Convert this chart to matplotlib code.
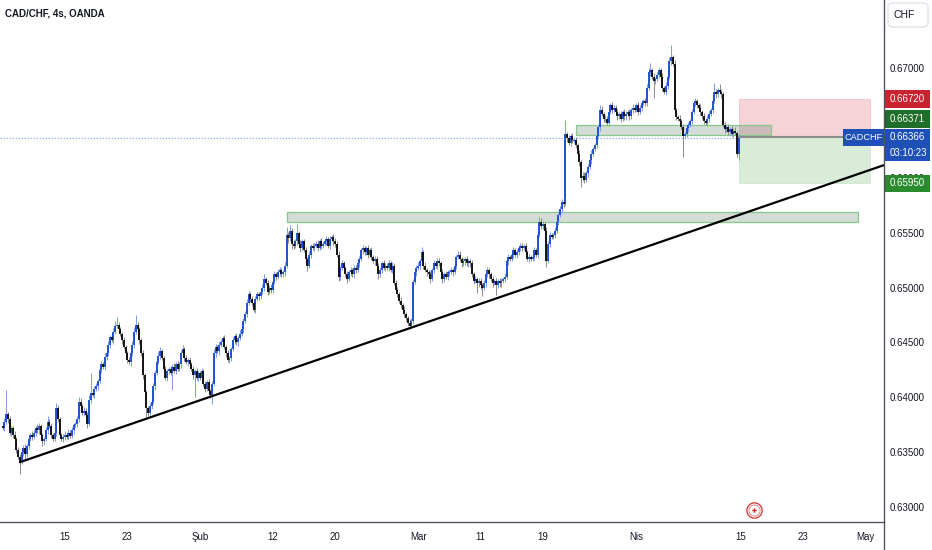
import datetime as dt
import numpy as np
import matplotlib
matplotlib.use("Agg")
import matplotlib.pyplot as plt
import matplotlib.transforms as mtransforms
from matplotlib.patches import Rectangle, FancyBboxPatch

FONT = ['Liberation Sans', 'DejaVu Sans']
plt.rcParams['font.family'] = FONT

# ---------------- data ----------------
title_text = "CAD/CHF, 4s, OANDA"
currency = "CHF"
symbol = "CADCHF"
first_day = "2024-01-05"
bars_per_day = 6
price_scale = 10000.0
first_open = 6374

# 4h closes (in 1/10000), one row per trading day, 6 bars per day
closes = [
    [6372, 6378, 6385, 6380, 6368, 6372],  # Jan 5
    [6366, 6362, 6352, 6346, 6342, 6350],  # Jan 8
    [6354, 6348, 6356, 6362, 6366, 6364],  # Jan 9
    [6368, 6372, 6370, 6374, 6366, 6360],  # Jan 10
    [6362, 6370, 6378, 6374, 6366, 6362],  # Jan 11
    [6368, 6390, 6380, 6366, 6362, 6364],  # Jan 12
    [6366, 6364, 6368, 6365, 6370, 6375],  # Jan 15
    [6376, 6380, 6396, 6392, 6386, 6388],  # Jan 16
    [6384, 6376, 6398, 6404, 6402, 6408],  # Jan 17
    [6410, 6415, 6425, 6430, 6428, 6437],  # Jan 18
    [6440, 6448, 6455, 6452, 6460, 6465],  # Jan 19
    [6466, 6462, 6458, 6452, 6446, 6440],  # Jan 22
    [6434, 6432, 6440, 6448, 6460, 6466],  # Jan 23
    [6462, 6452, 6440, 6420, 6405, 6390],  # Jan 24
    [6386, 6392, 6396, 6410, 6422, 6432],  # Jan 25
    [6438, 6442, 6436, 6426, 6418, 6424],  # Jan 26
    [6426, 6422, 6428, 6424, 6430, 6426],  # Jan 29
    [6430, 6440, 6444, 6436, 6432, 6434],  # Jan 30
    [6430, 6426, 6420, 6424, 6418, 6422],  # Jan 31
    [6418, 6424, 6412, 6408, 6414, 6406],  # Feb 1
    [6402, 6412, 6440, 6446, 6442, 6448],  # Feb 2
    [6450, 6454, 6446, 6440, 6434, 6436],  # Feb 5
    [6444, 6452, 6456, 6450, 6454, 6458],  # Feb 6
    [6462, 6470, 6476, 6486, 6494, 6490],  # Feb 7
    [6486, 6480, 6490, 6494, 6492, 6496],  # Feb 8
    [6500, 6508, 6504, 6496, 6500, 6498],  # Feb 9
    [6505, 6512, 6510, 6514, 6516, 6512],  # Feb 12
    [6514, 6520, 6548, 6545, 6552, 6540],  # Feb 13
    [6538, 6542, 6550, 6540, 6536, 6542],  # Feb 14
    [6534, 6526, 6520, 6530, 6538, 6536],  # Feb 15
    [6538, 6540, 6536, 6542, 6538, 6540],  # Feb 16
    [6542, 6544, 6538, 6544, 6546, 6542],  # Feb 19
    [6540, 6530, 6510, 6518, 6522, 6518],  # Feb 20
    [6512, 6508, 6514, 6516, 6512, 6518],  # Feb 21
    [6516, 6522, 6526, 6534, 6536, 6532],  # Feb 22
    [6536, 6530, 6534, 6528, 6524, 6526],  # Feb 23
    [6520, 6512, 6516, 6522, 6518, 6520],  # Feb 26
    [6518, 6522, 6516, 6520, 6504, 6498],  # Feb 27
    [6494, 6488, 6484, 6480, 6476, 6472],  # Feb 28
    [6468, 6465, 6470, 6505, 6514, 6518],  # Feb 29
    [6520, 6524, 6532, 6520, 6516, 6514],  # Mar 1
    [6512, 6508, 6516, 6522, 6520, 6524],  # Mar 4
    [6522, 6514, 6508, 6512, 6510, 6514],  # Mar 5
    [6514, 6516, 6514, 6520, 6528, 6530],  # Mar 6
    [6526, 6522, 6524, 6526, 6522, 6524],  # Mar 7
    [6522, 6512, 6506, 6508, 6504, 6506],  # Mar 8
    [6502, 6500, 6504, 6512, 6516, 6512],  # Mar 11
    [6508, 6504, 6506, 6502, 6506, 6504],  # Mar 12
    [6506, 6508, 6510, 6524, 6528, 6526],  # Mar 13
    [6530, 6534, 6530, 6532, 6536, 6538],  # Mar 14
    [6536, 6538, 6532, 6526, 6528, 6526],  # Mar 15
    [6528, 6534, 6530, 6548, 6560, 6556],  # Mar 18
    [6558, 6552, 6524, 6540, 6548, 6546],  # Mar 19
    [6548, 6552, 6560, 6566, 6572, 6578],  # Mar 20
    [6576, 6640, 6636, 6632, 6638, 6634],  # Mar 21
    [6634, 6630, 6622, 6614, 6600, 6602],  # Mar 22
    [6598, 6604, 6610, 6616, 6622, 6626],  # Mar 25
    [6630, 6638, 6646, 6662, 6658, 6654],  # Mar 26
    [6654, 6650, 6660, 6666, 6662, 6664],  # Mar 27
    [6660, 6656, 6658, 6654, 6660, 6656],  # Mar 28
    [6658, 6660, 6656, 6662, 6664, 6662],  # Mar 29
    [6666, 6660, 6664, 6668, 6670, 6668],  # Apr 1
    [6682, 6696, 6698, 6692, 6688, 6690],  # Apr 2
    [6694, 6698, 6692, 6682, 6678, 6684],  # Apr 3
    [6692, 6706, 6710, 6704, 6662, 6655],  # Apr 4
    [6654, 6652, 6646, 6638, 6640, 6645],  # Apr 5
    [6648, 6652, 6660, 6668, 6670, 6666],  # Apr 8
    [6664, 6660, 6656, 6652, 6650, 6654],  # Apr 9
    [6658, 6662, 6670, 6678, 6676, 6680],  # Apr 10
    [6678, 6676, 6648, 6644, 6646, 6642],  # Apr 11
    [6644, 6640, 6643, 6641, 6622, 6636.6],  # Apr 12
]

# wick length above the body (1/10000)
upper_wick = [
    [3, 3, 22, 2, 3, 2], [2, 3, 2, 3, 2, 3], [3, 4, 2, 3, 2, 3], [3, 2, 4, 3, 2, 2],
    [2, 3, 5, 2, 3, 2], [2, 5, 3, 2, 2, 3], [3, 2, 3, 2, 3, 2], [2, 3, 4, 3, 2, 3],
    [2, 3, 4, 18, 3, 2], [3, 2, 4, 3, 2, 3], [2, 3, 2, 4, 3, 5], [7, 3, 2, 2, 3, 2],
    [2, 3, 2, 3, 4, 9], [3, 2, 2, 3, 2, 2], [2, 3, 2, 3, 3, 4], [3, 4, 2, 2, 3, 2],
    [2, 3, 2, 3, 2, 3], [2, 3, 4, 2, 3, 2], [3, 2, 3, 2, 3, 2], [2, 3, 2, 3, 2, 3],
    [2, 3, 4, 3, 2, 3], [3, 2, 3, 2, 3, 2], [2, 3, 2, 3, 2, 3], [3, 2, 3, 4, 3, 2],
    [2, 3, 2, 3, 2, 4], [3, 4, 2, 3, 2, 3], [2, 3, 2, 3, 3, 2], [2, 3, 7, 3, 5, 2],
    [3, 2, 8, 2, 3, 2], [2, 3, 2, 3, 2, 3], [3, 2, 3, 2, 3, 2], [2, 3, 2, 3, 2, 3],
    [3, 2, 3, 2, 3, 2], [2, 3, 2, 3, 2, 3], [3, 2, 3, 2, 3, 2], [2, 3, 2, 3, 2, 3],
    [3, 2, 3, 2, 3, 2], [2, 3, 2, 3, 2, 3], [3, 2, 3, 2, 3, 2], [2, 3, 2, 3, 2, 3],
    [3, 2, 5, 2, 3, 2], [2, 3, 2, 3, 2, 3], [3, 2, 3, 2, 3, 2], [2, 3, 2, 3, 2, 3],
    [3, 2, 3, 2, 3, 2], [2, 3, 2, 3, 2, 3], [3, 2, 3, 2, 3, 2], [2, 3, 2, 3, 2, 3],
    [3, 2, 3, 2, 3, 2], [2, 3, 2, 3, 2, 3], [3, 2, 3, 2, 3, 2], [2, 3, 2, 3, 4, 3],
    [3, 2, 3, 2, 3, 2], [2, 3, 2, 3, 2, 3], [3, 13, 2, 3, 2, 3], [2, 3, 2, 3, 2, 3],
    [3, 2, 3, 2, 3, 2], [2, 3, 2, 4, 3, 2], [3, 2, 3, 2, 3, 2], [2, 3, 2, 3, 2, 3],
    [3, 2, 3, 2, 3, 2], [2, 3, 2, 3, 2, 3], [3, 4, 7, 2, 3, 2], [2, 3, 2, 3, 2, 3],
    [3, 4, 11, 2, 3, 2], [2, 3, 2, 3, 2, 3], [3, 2, 3, 2, 3, 2], [2, 3, 2, 3, 2, 3],
    [3, 2, 3, 8, 3, 2], [5, 3, 2, 3, 2, 3], [2, 3, 2, 3, 2, 3],
]

# wick length below the body (1/10000)
lower_wick = [
    [2, 3, 2, 3, 2, 3], [3, 2, 3, 2, 12, 3], [3, 4, 2, 3, 2, 3], [2, 3, 2, 3, 2, 4],
    [3, 2, 3, 2, 3, 2], [2, 3, 2, 3, 2, 3], [3, 2, 3, 2, 2, 3], [2, 3, 2, 3, 2, 3],
    [3, 4, 2, 3, 2, 3], [2, 3, 2, 3, 2, 3], [3, 2, 3, 2, 3, 2], [2, 3, 2, 3, 2, 3],
    [3, 2, 3, 2, 3, 2], [2, 3, 2, 3, 2, 8], [3, 2, 3, 2, 3, 2], [2, 3, 2, 3, 2, 3],
    [3, 2, 15, 2, 3, 2], [2, 3, 2, 3, 2, 3], [3, 2, 3, 20, 2, 3], [2, 3, 2, 3, 2, 3],
    [3, 8, 2, 3, 2, 3], [2, 3, 2, 3, 2, 3], [3, 2, 3, 2, 3, 2], [2, 3, 2, 3, 2, 3],
    [3, 2, 3, 2, 3, 2], [2, 3, 2, 3, 2, 3], [3, 2, 3, 2, 3, 2], [2, 3, 2, 4, 3, 5],
    [3, 2, 3, 2, 4, 3], [2, 3, 5, 2, 3, 2], [3, 2, 3, 2, 3, 2], [2, 3, 2, 3, 2, 3],
    [3, 2, 4, 3, 2, 3], [2, 4, 2, 3, 2, 3], [3, 2, 3, 2, 3, 2], [2, 3, 2, 3, 2, 3],
    [3, 4, 2, 3, 2, 3], [2, 3, 2, 3, 2, 3], [3, 2, 3, 2, 3, 2], [3, 3, 2, 3, 2, 3],
    [2, 3, 2, 3, 2, 3], [3, 4, 2, 3, 2, 3], [2, 3, 4, 3, 2, 3], [3, 2, 3, 2, 3, 2],
    [2, 3, 2, 3, 2, 3], [3, 2, 3, 2, 9, 3], [3, 8, 2, 3, 2, 3], [2, 3, 2, 9, 2, 3],
    [3, 2, 3, 2, 3, 2], [2, 3, 2, 3, 2, 3], [3, 2, 3, 2, 3, 2], [2, 3, 2, 3, 2, 3],
    [3, 2, 5, 2, 3, 2], [2, 3, 2, 3, 2, 3], [3, 2, 3, 2, 3, 2], [2, 3, 2, 3, 8, 3],
    [3, 2, 3, 2, 3, 2], [2, 3, 2, 3, 2, 3], [3, 2, 3, 2, 3, 2], [2, 3, 2, 3, 2, 3],
    [3, 2, 3, 2, 3, 2], [2, 3, 2, 3, 2, 3], [3, 2, 3, 2, 15, 3], [2, 3, 2, 3, 2, 3],
    [3, 2, 3, 2, 3, 2], [2, 3, 2, 19, 2, 3], [3, 2, 3, 2, 3, 2], [2, 3, 2, 3, 2, 3],
    [3, 2, 3, 2, 3, 2], [2, 3, 2, 3, 2, 3], [3, 2, 3, 2, 3, 6],
]

x_tick_dates = ["2024-01-15", "2024-01-23", "2024-02-01", "2024-02-12", "2024-02-20",
                "2024-03-01", "2024-03-11", "2024-03-19", "2024-04-01", "2024-04-15",
                "2024-04-23", "2024-05-01"]
x_tick_labels = ["15", "23", "Şub", "12", "20", "Mar", "11", "19", "Nis", "15", "23", "May"]
# 0.66500 is fully hidden behind the price labels in the reference
y_ticks = [0.630, 0.635, 0.640, 0.645, 0.650, 0.655, 0.660, 0.670]

current_price = 0.66366
countdown = "03:10:23"
entry_price = 0.66371
stop_price = 0.66720
target_price = 0.65950

# zones: (start date, bar), (end date, bar), low, high
zone_a = (("2024-02-13", 2), ("2024-04-30", 2), 0.65600, 0.65690)
zone_b = (("2024-03-22", 1), ("2024-04-18", 0), 0.66390, 0.66480)
position_end = ("2024-05-01", 3)
trend_a = (("2024-01-08", 4), 0.63410)
trend_b = (("2024-02-29", 1), 0.64630)
event_at = ("2024-04-16", 2)

# ---------------- helpers ----------------
d0 = dt.date.fromisoformat(first_day)
tdays = []
d = d0
while d <= dt.date(2024, 5, 31):
    if d.weekday() < 5:
        tdays.append(d)
    d += dt.timedelta(days=1)
tindex = {day: i for i, day in enumerate(tdays)}


def xpos(date_str, bar=0):
    return tindex[dt.date.fromisoformat(date_str)] + bar / bars_per_day


W, H = 932, 550
fig = plt.figure(figsize=(W / 100, H / 100), dpi=100)
fig.patch.set_facecolor('white')
ax_bottom_px = 522
ax_right_px = 884
ax = fig.add_axes([0, (H - ax_bottom_px) / H, ax_right_px / W, ax_bottom_px / H])

x_lo, x_hi = -0.251, 84.83
y_lo, y_hi = 0.628652, 0.676193
ax.set_xlim(x_lo, x_hi)
ax.set_ylim(y_lo, y_hi)
ppx = (y_hi - y_lo) / ax_bottom_px  # price per pixel

# ---------------- candles ----------------
c = np.array(closes, float).ravel() / price_scale
o = np.concatenate([[first_open / price_scale], c[:-1]])
hw = np.array(upper_wick, float).ravel() / price_scale
lw_ = np.array(lower_wick, float).ravel() / price_scale
hi = np.maximum(o, c) + hw
lo = np.minimum(o, c) - lw_
xs = np.arange(len(c)) / bars_per_day
up = c >= o
bt = np.maximum(o, c)
bb = np.minimum(o, c)
bb = np.where(bt - bb < 0.8 * ppx, bt - 0.8 * ppx, bb)

body_up, body_dn = '#1a4bd3', '#0d0d0d'
wick_up, wick_dn = '#7d9de8', '#8a8a8a'
ax.vlines(xs[up], lo[up], hi[up], color=wick_up, lw=0.7, zorder=3)
ax.vlines(xs[~up], lo[~up], hi[~up], color=wick_dn, lw=0.7, zorder=3)
ax.vlines(xs[up], bb[up], bt[up], color=body_up, lw=1.35, zorder=3.2)
ax.vlines(xs[~up], bb[~up], bt[~up], color=body_dn, lw=1.35, zorder=3.2)

last_x = xs[-1]

# ---------------- zones ----------------
zone_face = (100 / 255, 130 / 255, 110 / 255, 0.28)
zone_edge = '#86c98a'
for (s, e, zl, zh) in (zone_a, zone_b):
    x0 = xpos(*s)
    x1 = xpos(*e)
    ax.add_patch(Rectangle((x0, zl), x1 - x0, zh - zl, facecolor=zone_face,
                           edgecolor=zone_edge, lw=0.9, zorder=2.5))

# position tool (short)
px1 = xpos(*position_end)
ax.add_patch(Rectangle((last_x, entry_price), px1 - last_x, stop_price - entry_price,
                       facecolor='#f5d3d6', edgecolor='#f0c4c8', lw=0.6, zorder=1.5))
ax.add_patch(Rectangle((last_x, target_price), px1 - last_x, entry_price - target_price,
                       facecolor='#d8ecd8', edgecolor='#cfe6cf', lw=0.6, zorder=1.5))
ax.plot([last_x, px1], [entry_price, entry_price], color='#8b8b8b', lw=1.5, zorder=2.6)

# current price dotted line
ax.axhline(current_price, color='#9fb6e6', lw=0.9, ls=(0, (1.2, 1.2)), zorder=1.2)

# trend line
tx0, ty0 = xpos(*trend_a[0]), trend_a[1]
tx1, ty1 = xpos(*trend_b[0]), trend_b[1]
slope = (ty1 - ty0) / (tx1 - tx0)
ax.plot([tx0, x_hi + 1], [ty0, ty0 + slope * (x_hi + 1 - tx0)], color='black', lw=1.6,
        zorder=4, solid_capstyle='round')

# ---------------- axes styling ----------------
for sp in ('top', 'left', 'right'):
    ax.spines[sp].set_visible(False)
ax.spines['bottom'].set_color('#50535e')
ax.spines['bottom'].set_linewidth(1.0)
fig.add_artist(plt.Line2D([ax_right_px / W, ax_right_px / W], [0, 1], color='#50535e',
                          lw=1.0, transform=fig.transFigure))

ax.yaxis.tick_right()
ax.set_yticks(y_ticks)
ax.set_yticklabels([f"{v:.5f}" for v in y_ticks])
ax.tick_params(axis='y', length=0, pad=4.3, labelsize=7, labelcolor='#131722')
ax.set_xticks([xpos(dstr) for dstr in x_tick_dates])
ax.set_xticklabels(x_tick_labels)
ax.tick_params(axis='x', length=0, pad=7, labelsize=7, labelcolor='#131722')

# ---------------- right-axis labels ----------------
bl = mtransforms.blended_transform_factory(fig.transFigure, ax.transData)
lab_x0 = (ax_right_px + 1) / W
lab_w = 45 / W
lab_tx = 890 / W


def price_label(yc, h_px, color, lines):
    h = h_px * ppx
    ax.add_patch(Rectangle((lab_x0, yc - h / 2), lab_w, h, facecolor=color,
                           edgecolor='none', transform=bl, clip_on=False, zorder=10))
    n = len(lines)
    for k, t in enumerate(lines):
        ty = yc + h / 2 - (k + 0.5) * h / n
        ax.text(lab_tx, ty, t, transform=bl, color='white', fontsize=7, va='center',
                ha='left', clip_on=False, zorder=11)


price_label(stop_price, 18, '#c8232f', [f"{stop_price:.5f}"])
price_block_top = current_price + 8.3 * ppx
price_label(price_block_top - 16 * ppx, 32, '#1f50b8', [f"{current_price:.5f}", countdown])
price_label(price_block_top + 10 * ppx, 18, '#1f6f2a', [f"{entry_price:.5f}"])
price_label(target_price, 17, '#2a8a2e', [f"{target_price:.5f}"])

# symbol tag
sym_w = 41 / W
ax.add_patch(Rectangle((lab_x0 - sym_w - 1 / W, current_price - 8.5 * ppx), sym_w, 17 * ppx,
                       facecolor='#1f50b8', edgecolor='none', transform=bl, clip_on=False,
                       zorder=10))
ax.text(lab_x0 - sym_w / 2 - 1 / W, current_price, symbol, transform=bl, color='white',
        fontsize=6.6, va='center', ha='center', zorder=11)

# ---------------- currency box & title ----------------
fig.add_artist(FancyBboxPatch((888 / W, 1 - 27 / H), 40 / W, 24 / H,
                              boxstyle="round,pad=0,rounding_size=0.006",
                              facecolor='white', edgecolor='#e0e3eb', lw=1.0,
                              transform=fig.transFigure))
fig.text(893 / W, 1 - 15 / H, currency, fontsize=7.5, color='#131722', va='center', ha='left')
fig.text(5 / W, 1 - 14 / H, title_text, fontsize=7, fontweight='bold', color='#131722',
         va='center', ha='left')

# ---------------- event marker ----------------
ev_tr = mtransforms.blended_transform_factory(ax.transData, ax.transAxes)
ev_x = xpos(*event_at)
ev_y = (ax_bottom_px - 510) / ax_bottom_px
ax.plot([ev_x], [ev_y], marker='o', ms=11, mfc='white', mec='#d32f2f', mew=0.9,
        transform=ev_tr, clip_on=False, zorder=6)
ax.plot([ev_x], [ev_y], marker='o', ms=8, mfc='none', mec='#e57373', mew=0.6,
        transform=ev_tr, clip_on=False, zorder=6)
ax.plot([ev_x], [ev_y], marker='P', ms=3.2, mfc='#d32f2f', mec='none',
        transform=ev_tr, clip_on=False, zorder=6)

fig.savefig("out.png", dpi=100, facecolor='white')
